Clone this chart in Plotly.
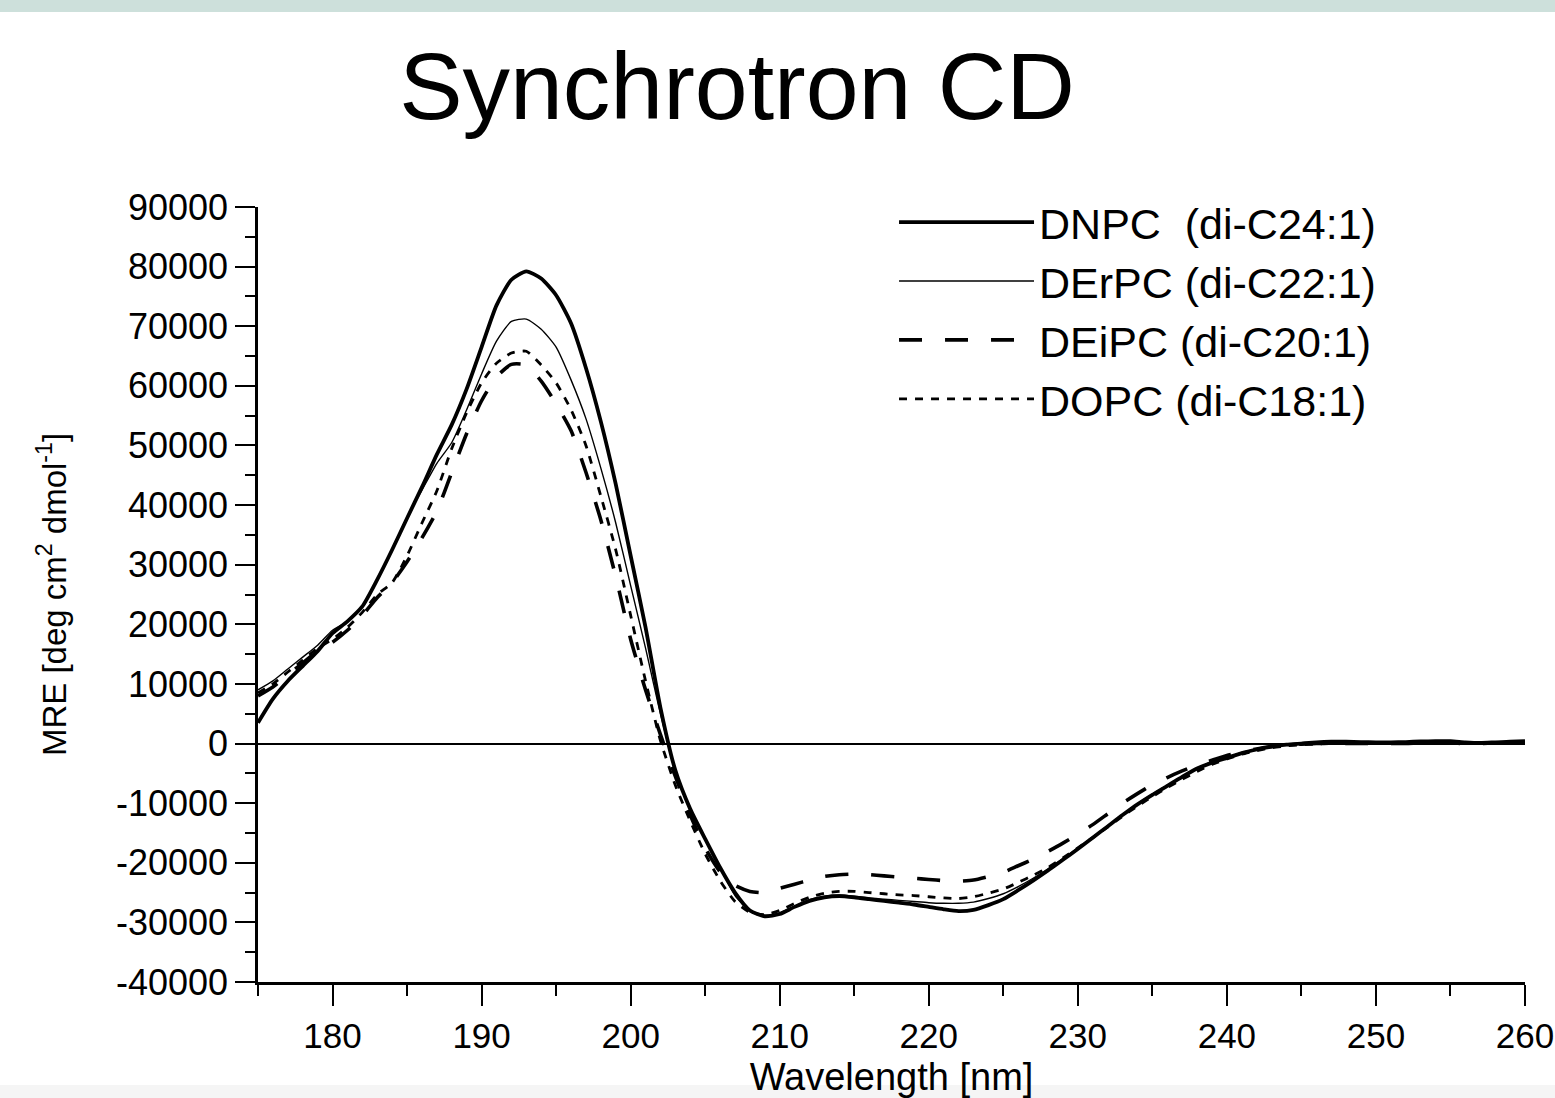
import plotly.graph_objects as go

wavelength = list(range(175, 261))

dnpc = [3500, 7500, 10500, 13000, 15500, 18500, 20500, 23000, 27500, 32500,
        37800, 43000, 48500, 53500, 59500, 66500, 73500, 77800, 79200, 78000,
        75200, 70500, 63000, 54000, 43500, 31500, 19500, 6000, -4500, -11000,
        -16000, -20800, -25000, -28000, -29000, -28600, -27400, -26400, -25800, -25600,
        -25800, -26100, -26400, -26700, -27000, -27400, -27800, -28100, -27900, -27100,
        -26100, -24600, -23000, -21300, -19500, -17700, -15800, -13900, -12000, -10200,
        -8600, -7100, -5600, -4200, -3200, -2400, -1600, -1000, -500, -200,
        0, 200, 300, 300, 250, 200, 200, 250, 350, 400,
        400, 200, 100, 200, 300, 400]

derpc = [9000, 10500, 12500, 14500, 16500, 19000, 20500, 23000, 27500, 32500,
         38000, 42500, 47000, 50500, 56000, 62000, 67500, 70800, 71200, 69500,
         66500, 61000, 54500, 46200, 37000, 26500, 16000, 5000, -4500, -11000,
         -16000, -20800, -25500, -28000, -28800, -28400, -27300, -26200, -25600, -25400,
         -25600, -25900, -26100, -26300, -26500, -26700, -26800, -26800, -26600, -26000,
         -25200, -24000, -22600, -21000, -19300, -17500, -15700, -13800, -11900, -10100,
         -8500, -7000, -5500, -4100, -3100, -2300, -1500, -900, -400, -100,
         100, 200, 300, 300, 250, 200, 200, 250, 300, 350,
         350, 200, 100, 200, 300, 400]

deipc = [8000, 9500, 11500, 13500, 15500, 17000, 19000, 21500, 24500, 27000,
         30500, 34500, 39000, 45500, 52000, 57500, 61500, 63600, 63500, 60800,
         57000, 52500, 45500, 37500, 28000, 17500, 9000, 1500, -5500, -12000,
         -17500, -21500, -23800, -24800, -25000, -24300, -23600, -22900, -22300, -22000,
         -21900, -22000, -22200, -22400, -22600, -22800, -23000, -23100, -22900, -22300,
         -21600, -20500, -19400, -18100, -16700, -15200, -13600, -11800, -10000, -8400,
         -6900, -5700, -4600, -3600, -2800, -2000, -1400, -900, -500, -200,
         -100, 0, 0, 0, 0, 0, 0, 0, 100, 100,
         100, 0, 0, 100, 200, 300]

dopc = [8500, 10000, 12000, 14000, 16000, 17500, 19500, 22000, 25000, 27000,
        31500, 37000, 42400, 49500, 55500, 60500, 63800, 65500, 65800, 63500,
        60500, 56000, 50000, 41500, 32500, 21500, 10500, 500, -7000, -13000,
        -18500, -23000, -26500, -28300, -28700, -28000, -26800, -25800, -25100, -24800,
        -24800, -25000, -25200, -25400, -25500, -25700, -25900, -26000, -25700, -25100,
        -24400, -23300, -22100, -20800, -19200, -17500, -15800, -14000, -12200, -10500,
        -8900, -7400, -6000, -4700, -3500, -2600, -1800, -1200, -700, -400,
        -200, -100, 0, 0, 0, 0, 0, 50, 100, 100,
        100, 0, 0, 100, 200, 300]

series_names = ["DNPC\u00a0 (di-C24:1)", "DErPC (di-C22:1)", "DEiPC (di-C20:1)", "DOPC (di-C18:1)"]

y_tickvals = [90000, 80000, 70000, 60000, 50000, 40000, 30000, 20000, 10000, 0,
              -10000, -20000, -30000, -40000]
y_ticktext = ["90000", "80000", "70000", "60000", "50000", "40000", "30000", "20000",
              "10000", "0", "-10000", "-20000", "-30000", "-40000"]
x_tickvals = [180, 190, 200, 210, 220, 230, 240, 250, 260]
x_ticktext = ["180", "190", "200", "210", "220", "230", "240", "250", "260"]

FONT = "Liberation Sans, Arial, sans-serif"

styles = [
    dict(width=3.8, dash="solid"),
    dict(width=1.4, dash="solid"),
    dict(width=3.6, dash="23px,23px"),
    dict(width=2.8, dash="8px,8px"),
]

fig = go.Figure()
for name, vals, st in zip(series_names, [dnpc, derpc, deipc, dopc], styles):
    fig.add_trace(go.Scatter(
        x=wavelength, y=vals, mode="lines", name=name,
        line=dict(color="black", width=st["width"], dash=st["dash"],
                  shape="spline", smoothing=0.6),
    ))

fig.update_layout(
    width=1555, height=1098, autosize=False,
    margin=dict(l=258, r=30, t=207, b=116, autoexpand=False),
    paper_bgcolor="white", plot_bgcolor="white",
    font=dict(family=FONT, color="black"),
    title=dict(text="Synchrotron CD", font=dict(size=95, family=FONT, color="black"),
               x=0.474, xanchor="center", y=0.922, yanchor="middle"),
    legend=dict(x=0.502, y=1.025, xanchor="left", yanchor="top",
                bgcolor="rgba(0,0,0,0)", borderwidth=0,
                font=dict(size=43, family=FONT, color="black"),
                itemwidth=135, tracegroupgap=0),
    showlegend=True,
)

fig.update_xaxes(
    range=[175, 260], showgrid=False, zeroline=False, automargin=False,
    showline=True, linecolor="black", linewidth=2.5,
    ticks="outside", ticklen=21, tickwidth=2, tickcolor="black",
    tickmode="array", tickvals=x_tickvals, ticktext=x_ticktext,
    tickfont=dict(size=35, family=FONT, color="black"),
    minor=dict(ticks="outside", ticklen=11, tickwidth=2, tickcolor="black",
               tickmode="linear", tick0=175, dtick=5),
    title=dict(text="Wavelength [nm]", font=dict(size=38, family=FONT, color="black"),
               standoff=24),
)
fig.update_yaxes(
    range=[-40000, 90000], showgrid=False, automargin=False,
    zeroline=True, zerolinecolor="black", zerolinewidth=1.8,
    showline=True, linecolor="black", linewidth=2.5,
    ticks="outside", ticklen=20, tickwidth=2, tickcolor="black",
    tickmode="array", tickvals=y_tickvals, ticktext=y_ticktext,
    tickfont=dict(size=36, family=FONT, color="black"),
    minor=dict(ticks="outside", ticklen=10, tickwidth=2, tickcolor="black",
               tickmode="linear", tick0=0, dtick=5000),
    title=dict(text="MRE [deg cm<sup>2</sup> dmol<sup>-1</sup>]",
               font=dict(size=33, family=FONT, color="black"), standoff=40),
)

# decorative page bands (slide header strip and footer strip)
fig.add_shape(type="rect", xref="paper", yref="paper",
              x0=-0.25, x1=1.05, y0=1.2516, y1=1.30,
              fillcolor="#cde0db", line=dict(width=0), layer="below")
fig.add_shape(type="rect", xref="paper", yref="paper",
              x0=-0.25, x1=1.05, y0=-0.16, y1=-0.1329,
              fillcolor="#f5f5f5", line=dict(width=0), layer="below")

fig.write_html("out.html", config={"displayModeBar": False},
               post_script="document.body.style.margin='0px';document.body.style.overflow='hidden';")
